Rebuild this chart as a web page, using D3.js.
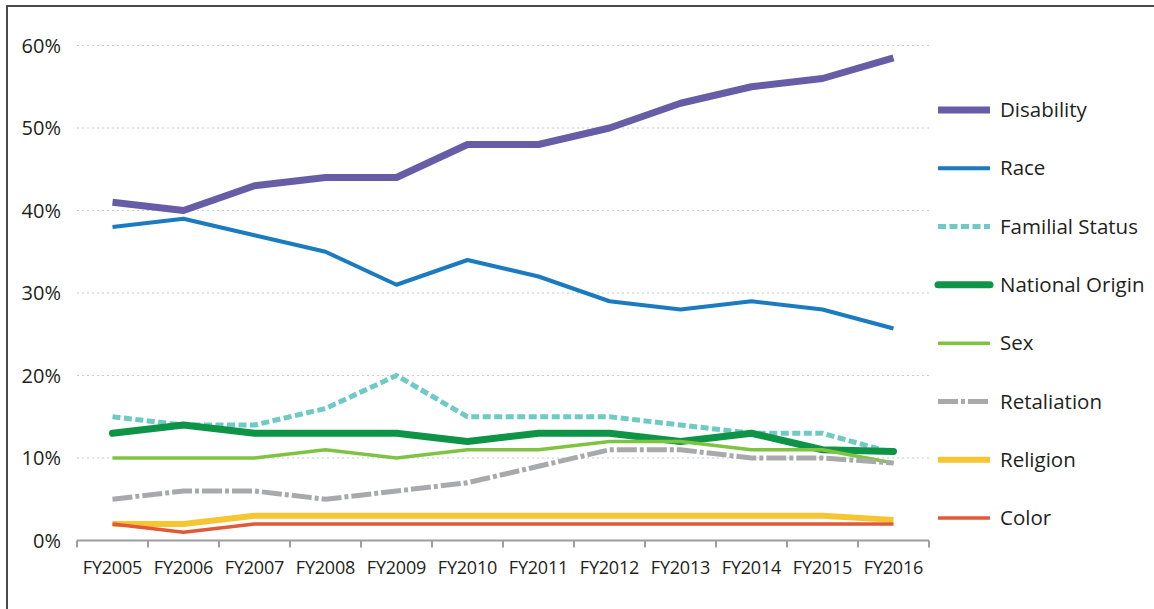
<!DOCTYPE html>
<html lang="en">
<head>
  <meta charset="UTF-8">
  <title>Complaints by basis, FY2005-FY2016</title>
  <style>
    body { margin: 0; background: #fff; }
    svg text { font-family: 'Open Sans', Arial, sans-serif; fill: #231f20; }
  </style>
</head>
<body>
<div id="chart"></div>
<script src="https://d3js.org/d3.v7.min.js"></script>
<script>
  // data (percent of complaints)
  var years = ["FY2005", "FY2006", "FY2007", "FY2008", "FY2009", "FY2010",
               "FY2011", "FY2012", "FY2013", "FY2014", "FY2015", "FY2016"];
  var yTicks = [0, 10, 20, 30, 40, 50, 60];

  var disability     = [41, 40, 43, 44, 44, 48, 48, 50, 53, 55, 56, 58.5];
  var race           = [38, 39, 37, 35, 31, 34, 32, 29, 28, 29, 28, 25.7];
  var familialStatus = [15, 14, 14, 16, 20, 15, 15, 15, 14, 13, 13, 10.6];
  var nationalOrigin = [13, 14, 13, 13, 13, 12, 13, 13, 12, 13, 11, 10.8];
  var sex            = [10, 10, 10, 11, 10, 11, 11, 12, 12, 11, 11, 9.4];
  var retaliation    = [5, 6, 6, 5, 6, 7, 9, 11, 11, 10, 10, 9.4];
  var religion       = [2, 2, 3, 3, 3, 3, 3, 3, 3, 3, 3, 2.5];
  var color          = [2, 1, 2, 2, 2, 2, 2, 2, 2, 2, 2, 2];

  var names = ["Disability", "Race", "Familial Status", "National Origin",
               "Sex", "Retaliation", "Religion", "Color"];

  // line styles, same order as names
  var styles = [
    {stroke: "#675da6", width: 7,   dash: null},
    {stroke: "#1b7bc0", width: 4,   dash: null},
    {stroke: "#6dcbc4", width: 5,   dash: "8,3.5"},
    {stroke: "#0e9446", width: 7,   dash: null},
    {stroke: "#80c342", width: 3.5, dash: null},
    {stroke: "#a8a9ad", width: 5,   dash: "20,3,4,3"},
    {stroke: "#f5c532", width: 6,   dash: null},
    {stroke: "#e1583a", width: 3.5, dash: null}
  ];

  var seriesValues = [disability, race, familialStatus, nationalOrigin,
                      sex, retaliation, religion, color];
  var series = names.map(function (n, i) {
    return {name: n, values: seriesValues[i], style: styles[i]};
  });

  var W = 1154, H = 609;

  var svg = d3.select("#chart").append("svg")
      .attr("width", W)
      .attr("height", H);

  // frame (top and left edges only)
  svg.append("path")
      .attr("d", "M7," + H + "V6H" + W)
      .attr("fill", "none")
      .attr("stroke", "#4a4a4a")
      .attr("stroke-width", 2);

  var x = d3.scaleBand()
      .domain(years)
      .range([77, 929]);

  var y = d3.scaleLinear()
      .domain([0, 60])
      .range([540.5, 45.5]);

  // dotted gridlines
  svg.append("g")
    .selectAll("line")
    .data(yTicks.filter(function (d) { return d > 0; }))
    .join("line")
      .attr("x1", 77)
      .attr("x2", 929)
      .attr("y1", function (d) { return y(d); })
      .attr("y2", function (d) { return y(d); })
      .attr("stroke", "#c9c9c9")
      .attr("stroke-width", 1)
      .attr("stroke-dasharray", "2,3");

  // y labels
  svg.append("g")
    .selectAll("text")
    .data(yTicks)
    .join("text")
      .attr("x", 61)
      .attr("y", function (d) { return y(d); })
      .attr("dy", "0.35em")
      .attr("text-anchor", "end")
      .style("font-size", "20px")
      .text(function (d) { return d + "%"; });

  // x axis: ticks sit on band edges
  var xAxis = svg.append("g");
  xAxis.append("line")
      .attr("x1", 77)
      .attr("x2", 929)
      .attr("y1", y(0))
      .attr("y2", y(0))
      .attr("stroke", "#9d9d9d")
      .attr("stroke-width", 2);

  xAxis.selectAll(".tick")
    .data(years.concat(["end"]))
    .join("line")
      .attr("class", "tick")
      .attr("x1", function (d) { return d === "end" ? x.range()[1] : x(d); })
      .attr("x2", function (d) { return d === "end" ? x.range()[1] : x(d); })
      .attr("y1", y(0))
      .attr("y2", y(0) + 7)
      .attr("stroke", "#9d9d9d")
      .attr("stroke-width", 2);

  xAxis.selectAll("text")
    .data(years)
    .join("text")
      .attr("x", function (d) { return x(d) + x.bandwidth() / 2; })
      .attr("y", 574)
      .attr("text-anchor", "middle")
      .style("font-size", "18px")
      .style("letter-spacing", "-0.2px")
      .text(function (d) { return d; });

  // the lines
  var line = d3.line()
      .x(function (d, i) { return x(years[i]) + x.bandwidth() / 2; })
      .y(function (d) { return y(d); });

  svg.append("g")
    .selectAll("path")
    .data(series)
    .join("path")
      .attr("d", function (s) { return line(s.values); })
      .attr("fill", "none")
      .attr("stroke", function (s) { return s.style.stroke; })
      .attr("stroke-width", function (s) { return s.style.width; })
      .attr("stroke-dasharray", function (s) { return s.style.dash; })
      .attr("stroke-linejoin", "round")
      .attr("stroke-linecap", function (s) { return s.name === "National Origin" ? "round" : "butt"; });

  // legend
  var ly = d3.scalePoint()
      .domain(names)
      .range([110, 518]);

  var legend = svg.append("g")
    .selectAll("g")
    .data(series)
    .join("g")
      .attr("transform", function (s) { return "translate(0," + ly(s.name) + ")"; });

  legend.append("line")
      .attr("x1", 938)
      .attr("x2", 990)
      .attr("stroke", function (s) { return s.style.stroke; })
      .attr("stroke-width", function (s) { return s.style.width; })
      .attr("stroke-dasharray", function (s) { return s.style.dash; })
      .attr("stroke-linecap", function (s) { return s.name === "National Origin" ? "round" : "butt"; });

  legend.append("text")
      .attr("x", 1000)
      .attr("dy", "0.35em")
      .style("font-size", "20.5px")
      .text(function (s) { return s.name; });
</script>
</body>
</html>
